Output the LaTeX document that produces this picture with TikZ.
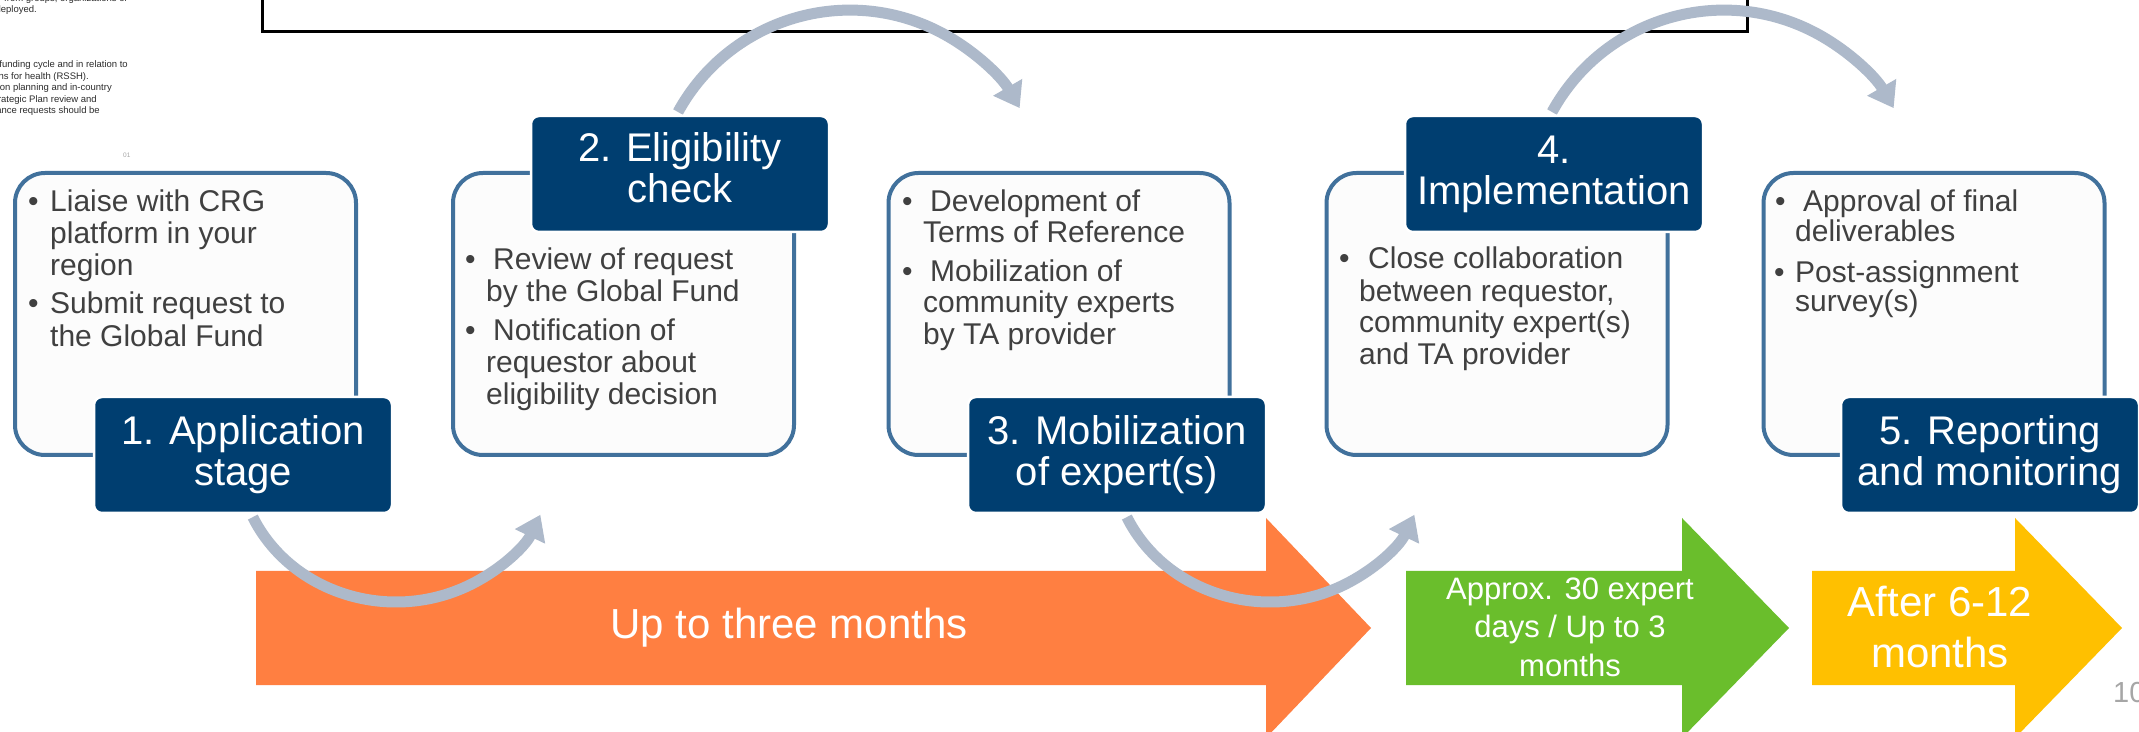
\documentclass[tikz,border=0pt]{standalone}
\usepackage{fontspec}
\setmainfont{Liberation Sans}
\usetikzlibrary{arrows.meta}
\definecolor{navy}{RGB}{0,62,112}
\definecolor{panelborder}{RGB}{65,113,156}
\definecolor{panelfill}{RGB}{252,252,252}
\definecolor{arcgray}{RGB}{173,185,202}
\definecolor{txtgray}{RGB}{64,64,64}
\definecolor{smalltxt}{RGB}{45,45,45}
\definecolor{orangearrow}{RGB}{255,127,65}
\definecolor{greenarrow}{RGB}{106,190,44}
\definecolor{yellowarrow}{RGB}{255,192,0}
\definecolor{pagegray}{RGB}{166,166,166}
\begin{document}
\begin{tikzpicture}[x=1pt,y=1pt,
  panel/.style={draw=panelborder, line width=4pt, fill=panelfill, rounded corners=30pt,
    minimum width=341pt, minimum height=282pt, inner sep=0pt},
  stage/.style={draw=white, line width=2.5pt, fill=navy, rounded corners=8pt,
    minimum width=298pt, minimum height=116pt, inner sep=0pt, text=white, align=center,
    font=\fontsize{40}{41}\selectfont},
  btxt/.style={anchor=base west, inner sep=0pt, text=txtgray, font=\fontsize{30}{32}\selectfont},
  small/.style={anchor=base east, inner sep=0pt, text=smalltxt, font=\fontsize{9.5}{11.5}\selectfont},
  flow/.style={draw=arcgray, line width=11pt, -{Triangle[width=32pt,length=24pt]}},
  bandtxt/.style={inner sep=0pt, text=white, align=center}
]
\useasboundingbox (0,0) rectangle (2139,731);
\fill[white] (0,0) rectangle (2139,731);

% cropped text at top left
\node[small] (s1) at (128,729.5) {from groups, organizations or};
\node[small] (s2) at (37,718) {deployed.};
\node[small] (s3) at (128,663) {funding cycle and in relation to};
\node[small] (s4) at (89,651.5) {ns for health (RSSH).};
\node[small] (s5) at (112,640) {on planning and in-country};
\node[small] (s6) at (97,628.5) {rategic Plan review and};
\node[small] (s7) at (100,617) {ance requests should be};
\node[anchor=base west, inner sep=0pt, text=pagegray, font=\fontsize{6.5}{7}\selectfont] (s8) at (123,573) {01};

% black frame at top
\draw[line width=3pt] (262,745) rectangle (1747,699);

% time arrows
\fill[orangearrow] (256,160) -- (1266,160) -- (1266,213) -- (1371,103) -- (1266,-7) -- (1266,46) -- (256,46) -- cycle;
\fill[greenarrow] (1406,160) -- (1682,160) -- (1682,213) -- (1789,103) -- (1682,-7) -- (1682,46) -- (1406,46) -- cycle;
\fill[yellowarrow] (1812,160) -- (2015,160) -- (2015,213) -- (2122,103) -- (2015,-7) -- (2015,46) -- (1812,46) -- cycle;
\node[bandtxt, anchor=base, font=\fontsize{42}{50}\selectfont] (o1) at (789,92) {Up to three months};
\node[bandtxt, font=\fontsize{31}{38.5}\selectfont] (g1) at (1570,104) {Approx. 30 expert\\days / Up to 3\\months};
\node[bandtxt, font=\fontsize{42}{51}\selectfont] (y1) at (1940,104) {After 6-12\\months};

% panels
\node[panel] (p1) at (185.5,417) {};
\node[panel] (p2) at (623.5,417) {};
\node[panel] (p3) at (1059,417) {};
\node[panel] (p4) at (1497,417) {};
\node[panel] (p5) at (1934,417) {};

% title positions
\coordinate (tc1) at (243,276);
\coordinate (tc2) at (680,557);
\coordinate (tc3) at (1117,276);
\coordinate (tc4) at (1554,557);
\coordinate (tc5) at (1990,276);

% curved connectors
\coordinate (a1) at ([shift={(9.8,-62.1)}]tc1);
\coordinate (a2) at ([shift={(-2,62)}]tc2);
\coordinate (a3) at ([shift={(9.8,-62.1)}]tc3);
\coordinate (a4) at ([shift={(-2,62)}]tc4);
\draw[flow] (a1) arc[start angle=205, end angle=336, x radius=158, y radius=147];
\draw[flow] (a2) arc[start angle=151.3, end angle=30, radius=196];
\draw[flow] (a3) arc[start angle=205, end angle=336, x radius=158, y radius=147];
\draw[flow] (a4) arc[start angle=151.3, end angle=30, radius=196];

% stage titles
\node[stage] (t1) at (tc1) {1. Application\\stage};
\node[stage] (t2) at (tc2) {2. Eligibility\\check\strut};
\node[stage] (t3) at (tc3) {3. Mobilization\\of expert(s)};
\node[stage] (t4) at (tc4) {4.\\Implementation};
\node[stage] (t5) at (tc5) {5. Reporting\\and monitoring};

% panel 1 text
\node[btxt] (b1a) at (28,519) {\textbullet};
\node[btxt] (l11) at (50,519) {Liaise with CRG};
\node[btxt] (l12) at (50,487) {platform in your};
\node[btxt] (l13) at (50,455) {region};
\node[btxt] (b1b) at (28,417) {\textbullet};
\node[btxt] (l14) at (50,417) {Submit request to};
\node[btxt] (l15) at (50,384) {the Global Fund};

% panel 2 text
\node[btxt] (b2a) at (465,461) {\textbullet};
\node[btxt] (l21) at (493,461) {Review of request};
\node[btxt] (l22) at (486,429) {by the Global Fund};
\node[btxt] (b2b) at (465,390) {\textbullet};
\node[btxt] (l23) at (493,390) {Notification of};
\node[btxt] (l24) at (486,358) {requestor about};
\node[btxt] (l25) at (486,326) {eligibility decision};

% panel 3 text
\node[btxt] (b3a) at (902,519) {\textbullet};
\node[btxt] (l31) at (930,519) {Development of};
\node[btxt] (l32) at (923,488) {Terms of Reference};
\node[btxt] (b3b) at (902,449) {\textbullet};
\node[btxt] (l33) at (930,449) {Mobilization of};
\node[btxt] (l34) at (923,418) {community experts};
\node[btxt] (l35) at (923,386) {by TA provider};

% panel 4 text
\node[btxt] (b4a) at (1339,462) {\textbullet};
\node[btxt] (l41) at (1368,462) {Close collaboration};
\node[btxt] (l42) at (1359,429) {between requestor,};
\node[btxt] (l43) at (1359,398) {community expert(s)};
\node[btxt] (l44) at (1359,366) {and TA provider};

% panel 5 text
\node[btxt] (b5a) at (1775,519) {\textbullet};
\node[btxt] (l51) at (1803,519) {Approval of final};
\node[btxt] (l52) at (1795,489) {deliverables};
\node[btxt] (b5b) at (1774,448) {\textbullet};
\node[btxt] (l53) at (1795,448) {Post-assignment};
\node[btxt] (l54) at (1795,419) {survey(s)};

% page number
\node[anchor=base west, inner sep=0pt, text=pagegray, font=\fontsize{29}{30}\selectfont] (pg) at (2113,28) {10};
\end{tikzpicture}
\end{document}
